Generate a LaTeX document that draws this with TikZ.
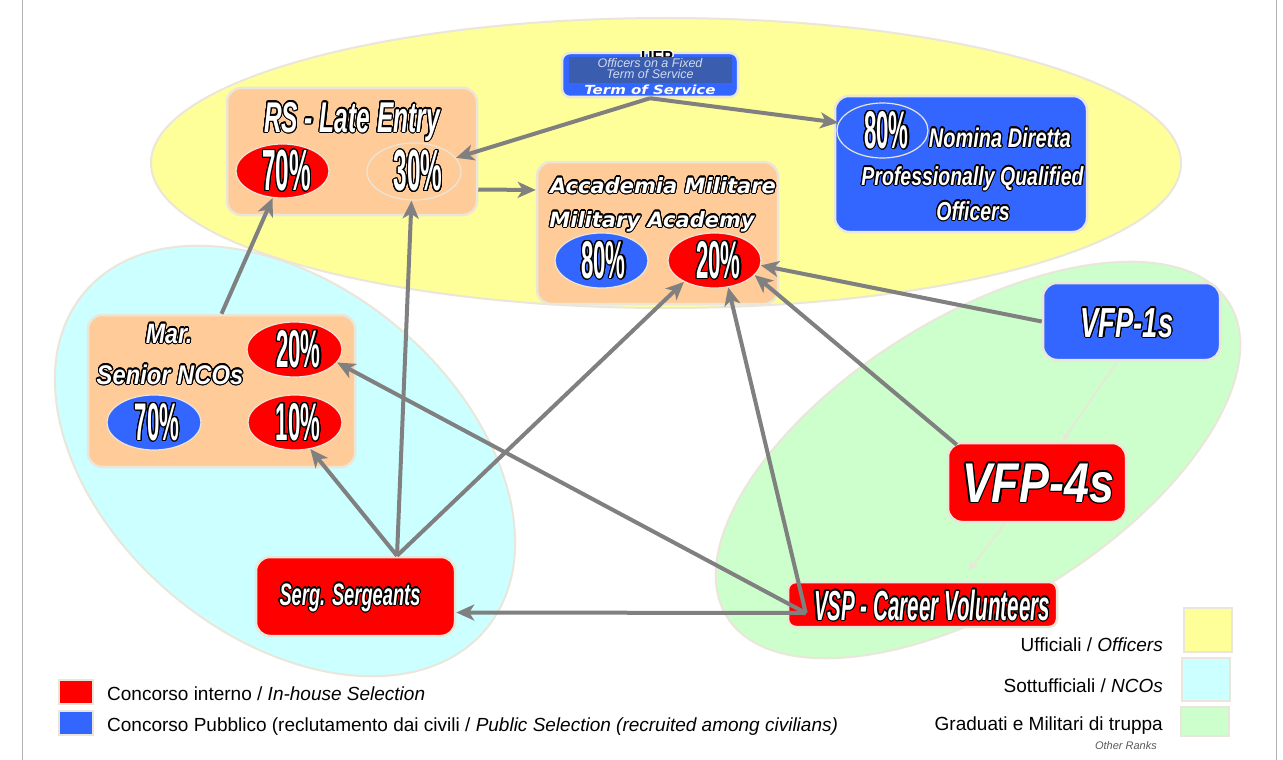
\documentclass[tikz,border=0pt]{standalone}
\usepackage{fontspec}
\setmainfont{Liberation Sans}
\newfontfamily\dvs{DejaVu Sans}[BoldFont={DejaVu Sans Bold},ItalicFont={DejaVu Sans Oblique},BoldItalicFont={DejaVu Sans Bold Oblique}]
\usepackage{contour}
\contourlength{1.1pt}
\contournumber{24}
\usetikzlibrary{arrows.meta,shapes.geometric}

\definecolor{offyellow}{HTML}{FFFF99}
\definecolor{ncocyan}{HTML}{CCFFFF}
\definecolor{rankgreen}{HTML}{CCFFCC}
\definecolor{peach}{HTML}{FFCC99}
\definecolor{pubblue}{HTML}{3366FF}
\definecolor{intred}{HTML}{FF0000}
\definecolor{rim}{HTML}{EAE6DA}
\definecolor{connector}{HTML}{808080}
\definecolor{tosinner}{HTML}{3A5DB0}
\definecolor{tostext}{HTML}{D2DAEE}
\definecolor{notegray}{HTML}{5A5A5A}

% white lettering with a black outline: stretch, size, text
\newcommand\olt[3]{{\fontsize{#2}{#2}\selectfont\bfseries\itshape\addfontfeature{FakeStretch=#1}\color{white}\contour{black}{#3}}}
% narrow upright percentages
\newcommand\pct[2][53]{{\fontsize{#1}{#1}\selectfont\bfseries\addfontfeature{FakeStretch=0.42}\color{white}\contour{black}{#2}}}
% wide outlined lettering
\newcommand\wideolt[2]{{\dvs\fontsize{#1}{#1}\selectfont\bfseries\itshape\color{white}\contour{black}{#2}}}
\newcommand\legendfont{\fontsize{19}{19}\selectfont}

\begin{document}
\begin{tikzpicture}[x=1pt,y=1pt,
  rbox/.style={draw=rim,line width=2.5pt,rounded corners=14pt,inner sep=0pt},
  pell/.style={ellipse,draw=rim,line width=1.2pt,inner sep=0pt},
  lbl/.style={anchor=base,inner sep=0pt},
  conn/.style={draw=connector,line width=4pt,-{Stealth[length=18pt,width=16pt,inset=5pt]}},
  faint/.style={draw=rim,line width=1.6pt,-{Stealth[length=9pt,width=8pt,inset=2pt]}},
  zone/.style={draw=rim,line width=2pt},
  swatch/.style={draw=rim,line width=1.5pt,inner sep=0pt},
]
\useasboundingbox (0,0) rectangle (1283,-760);
\fill[white] (0,0) rectangle (1283,-760);
\draw[gray!60,line width=0.8pt] (22,0) -- (22,-760) (1276,0) -- (1276,-760);

% rank zones
\draw[zone,fill=offyellow] (666,-163) ellipse [x radius=515,y radius=145];
\draw[zone,fill=ncocyan,rotate around={-40:(285,-461)}] (285,-461) ellipse [x radius=262,y radius=175];
\draw[zone,fill=rankgreen,rotate around={32:(978,-460)}] (978,-460) ellipse [x radius=296,y radius=143];

% entry boxes
\node[rbox,fill=peach,minimum width=250pt,minimum height=127pt] (rs) at (352,-151.5) {};
\node[rbox,fill=peach,minimum width=241pt,minimum height=142pt] (acad) at (657.5,-233) {};
\node[rbox,fill=peach,minimum width=267pt,minimum height=152pt] (mar) at (221.5,-391) {};
\node[rbox,fill=pubblue,minimum width=252pt,minimum height=136pt] (nom) at (961,-164) {};
\node[rbox,fill=pubblue,minimum width=177pt,minimum height=77pt] (vfp1) at (1131.5,-321.5) {};
\node[rbox,fill=intred,minimum width=178pt,minimum height=79pt] (vfp4) at (1037,-482.5) {};
\node[rbox,fill=intred,minimum width=199pt,minimum height=79pt] (ser) at (355.5,-596.5) {};
\node[rbox,fill=intred,minimum width=269pt,minimum height=45pt,rounded corners=8pt] (vsp) at (922.5,-604.5) {};
\node[rbox,fill=pubblue,minimum width=176pt,minimum height=44pt,rounded corners=8pt] (tos) at (650,-75) {};

% quota ellipses
\node[pell,fill=intred,minimum width=93pt,minimum height=54pt] (rs70) at (282.5,-171) {};
\node[pell,minimum width=94pt,minimum height=57pt] (rs30) at (414,-171.5) {};
\node[pell,fill=pubblue,minimum width=93pt,minimum height=55pt] (ac80) at (601.5,-260.5) {};
\node[pell,fill=intred,minimum width=93pt,minimum height=55pt] (ac20) at (714.5,-260.5) {};
\node[pell,minimum width=91pt,minimum height=55pt] (nom80) at (882.5,-130.5) {};
\node[pell,fill=intred,minimum width=95pt,minimum height=55pt] (mar20) at (294.5,-349.5) {};
\node[pell,fill=pubblue,minimum width=94pt,minimum height=55pt] (mar70) at (154,-422.5) {};
\node[pell,fill=intred,minimum width=94pt,minimum height=55pt] (mar10) at (295,-422.5) {};

\node[xshift=4pt] (rs70t) at (rs70) {\pct[58]{70\%}};
\node[xshift=4pt] (rs30t) at (rs30) {\pct[58]{30\%}};
\node[xshift=2pt] (ac80t) at (ac80) {\pct{80\%}};
\node[xshift=4pt] (ac20t) at (ac20) {\pct{20\%}};
\node[xshift=4pt] (nom80t) at (nom80) {\pct{80\%}};
\node[xshift=4pt] (mar20t) at (mar20) {\pct{20\%}};
\node[xshift=3pt] (mar70t) at (mar70) {\pct{70\%}};
\node[xshift=3pt] (mar10t) at (mar10) {\pct{10\%}};

% box titles
\node[lbl] (rsl) at (352,-132) {\olt{0.57}{43}{RS - Late Entry}};
\node[lbl] (acl1) at (663,-193) {\wideolt{21}{Accademia Militare}};
\node[lbl] (acl2) at (652,-227) {\wideolt{21}{Military Academy}};
\node[lbl] (noml1) at (1000,-147) {\olt{0.74}{27}{Nomina Diretta}};
\node[lbl] (noml2) at (972.5,-185) {\olt{0.75}{26}{Professionally Qualified}};
\node[lbl] (noml3) at (973,-220) {\olt{0.75}{26}{Officers}};
\node[lbl] (marl1) at (169,-343) {\olt{0.83}{28}{Mar.}};
\node[lbl] (marl2) at (170,-384) {\olt{0.88}{27}{Senior NCOs}};
\node[lbl] (vfp1l) at (1127,-337) {\olt{0.65}{42}{VFP-1s}};
\node[lbl] (vfp4l) at (1038,-502) {\olt{0.8}{56}{VFP-4s}};
\node[lbl] (serl) at (350,-605) {\olt{0.59}{31}{Serg. Sergeants}};
\node[lbl] (vspl) at (932,-620) {\olt{0.49}{42}{VSP - Career Volunteers}};

% fixed-term officers badge: the old heading peeks out above the inner panel
\begin{scope}
  \clip (560,-48) rectangle (740,-57);
  \node[lbl] (ufp) at (657,-63) {\fontsize{16}{16}\selectfont\bfseries\contour{white}{UFP}};
\end{scope}
\node[fill=tosinner,minimum width=163pt,minimum height=26pt,inner sep=0pt] (tosin) at (650.5,-70) {};
\node[lbl,text=tostext] (tost1) at (650,-67) {\fontsize{12.5}{12.5}\selectfont\itshape Officers on a Fixed};
\node[lbl,text=tostext] (tost2) at (650,-78) {\fontsize{12.5}{12.5}\selectfont\itshape Term of Service};
\node[lbl,text=white] (tost3) at (650,-95) {\dvs\fontsize{12.5}{12.5}\selectfont\bfseries\itshape\addfontfeature{FakeStretch=1.2}Term of Service};

% legends
\node[swatch,fill=intred,minimum width=34pt,minimum height=24pt] (keyint) at (76,-692) {};
\node[swatch,fill=pubblue,minimum width=34pt,minimum height=24pt] (keypub) at (76,-723) {};
\node[lbl,anchor=base west] (keyintl) at (107,-700) {\legendfont Concorso interno / \textit{In-house Selection}};
\node[lbl,anchor=base west] (keypubl) at (107,-731) {\legendfont Concorso Pubblico (reclutamento dai civili / \textit{Public Selection (recruited among civilians)}};

\node[swatch,fill=offyellow,minimum width=48pt,minimum height=44pt] (keyoff) at (1208,-630) {};
\node[swatch,fill=ncocyan,minimum width=48pt,minimum height=43pt] (keynco) at (1206,-679.5) {};
\node[swatch,fill=rankgreen,minimum width=48pt,minimum height=29pt] (keyrank) at (1205,-721.5) {};
\node[lbl,anchor=base east] (keyoffl) at (1163,-651) {\fontsize{19}{19}\selectfont Ufficiali / \textit{Officers}};
\node[lbl,anchor=base east] (keyncol) at (1163,-692) {\fontsize{19}{19}\selectfont Sottufficiali / \textit{NCOs}};
\node[lbl,anchor=base east] (keyrankl) at (1163,-730) {\fontsize{19}{19}\selectfont Graduati e Militari di truppa};
\node[lbl,anchor=base east,text=notegray] (keyrankl2) at (1157,-749) {\fontsize{11}{11}\selectfont\itshape Other Ranks};

% career paths
\coordinate (sertop) at ([xshift=41.5pt]ser.north);
\coordinate (vspfoot) at ([shift={(19pt,-8.5pt)}]vsp.west);
\coordinate (vfp4corner) at ([shift={(10pt,-3pt)}]vfp4.north west);

\draw[conn] (tos.south) -- (rs30.18);
\draw[conn] (tos.south) -- (nom80.170);
\draw[conn] ([yshift=-38pt]rs.east) -- ([yshift=43pt]acad.west);
\draw[conn] (mar.north) -- (rs70.250);
\draw[conn] (sertop) -- (rs30.265);
\draw[conn] (sertop) -- (mar10.300);
\draw[conn] (sertop) -- (ac20.215);
\draw[conn] (vspfoot) -- (mar20.343);
\draw[conn] (vspfoot) -- ([yshift=-16pt]ser.east);
\draw[conn] (vspfoot) -- (ac20.297);
\draw[conn] (vfp4corner) -- (ac20.340);
\draw[conn] (vfp1.west) -- (ac20.354);
\draw[faint] ([xshift=-14pt]vfp1.south) -- ([xshift=25pt]vfp4.north);
\draw[faint] ([xshift=-32pt]vfp4.south) -- ([shift={(46pt,10pt)}]vsp.north);
\end{tikzpicture}
\end{document}
